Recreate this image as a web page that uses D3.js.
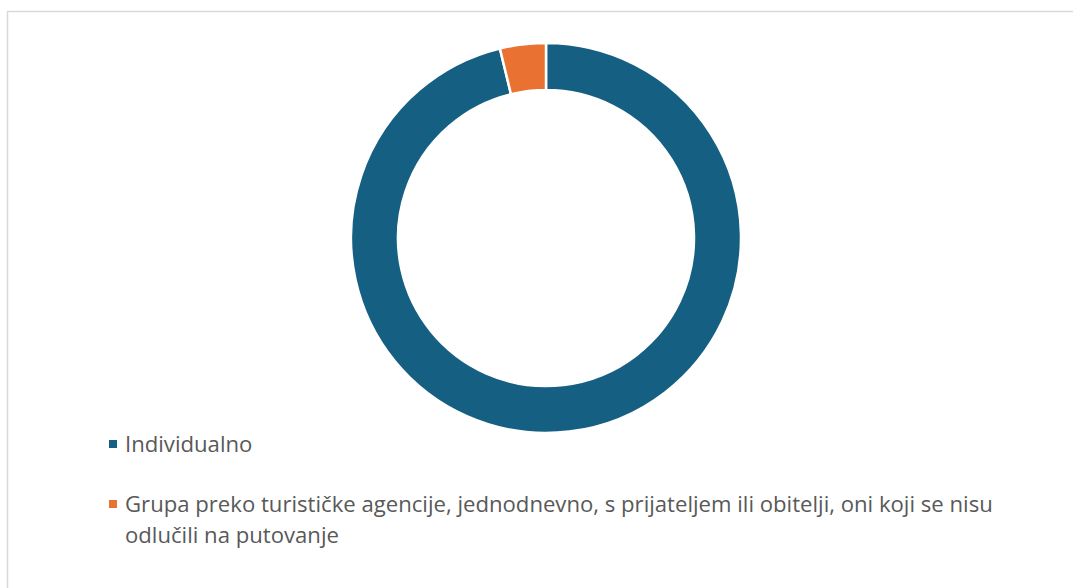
<!DOCTYPE html>
<html>
<head>
<meta charset="utf-8">
<script src="https://cdn.jsdelivr.net/npm/d3@7"></script>
<style>
  html, body { margin: 0; padding: 0; background: #fff; }
  svg { display: block; }
</style>
</head>
<body>
<svg id="chart" width="1073" height="588"></svg>
<script>
const categories = ["Individualno", "Grupa preko turističke agencije, jednodnevno, s prijateljem ili obitelji, oni koji se nisu odlučili na putovanje"];
const legendLines = [["Individualno"], ["Grupa preko turističke agencije, jednodnevno, s prijateljem ili obitelji, oni koji se nisu", "odlučili na putovanje"]];
const values = [96.2, 3.8];
const colors = ["#156082", "#E97132"];

const svg = d3.select("#chart");
const W = 1073, H = 588;

// frame
svg.append("rect").attr("x", 7.5).attr("y", 11.5).attr("width", W + 10).attr("height", H + 10)
  .attr("fill", "#fff").attr("stroke", "#d9d9d9").attr("stroke-width", 1.5);

const cx = 546, cy = 238, R = 195, r = 148;
const pie = d3.pie().sort(null).value(d => d);
const arc = d3.arc().innerRadius(r).outerRadius(R);
const color = d3.scaleOrdinal().domain(categories).range(colors);

svg.append("g").attr("transform", `translate(${cx},${cy})`)
  .selectAll("path").data(pie(values)).join("path")
  .attr("d", arc)
  .attr("fill", (d, i) => color(categories[i]))
  .attr("stroke", "#fff").attr("stroke-width", 2.5).attr("stroke-linejoin", "round");

// legend
const fontFamily = "'Open Sans', 'Noto Sans', sans-serif";
const legendY = [452, 512];
const lineGap = 31;
const lg = svg.append("g");
let fs = 18;
// measure to fit width of long line
const probe = lg.append("text").attr("font-family", fontFamily).attr("font-size", 18).text(legendLines[1][0]);
const wMeasured = probe.node().getComputedTextLength();
probe.remove();
fs = 18 * 868 / wMeasured;

legendLines.forEach((lines, i) => {
  lg.append("rect").attr("x", 109).attr("y", legendY[i] - 12).attr("width", 8).attr("height", 8)
    .attr("fill", color(categories[i]));
  const t = lg.append("text").attr("font-family", fontFamily).attr("font-size", fs)
    .attr("fill", "#595959");
  lines.forEach((ln, j) => {
    t.append("tspan").attr("x", 125).attr("y", legendY[i] + j * lineGap).text(ln);
  });
});
</script>
</body>
</html>
